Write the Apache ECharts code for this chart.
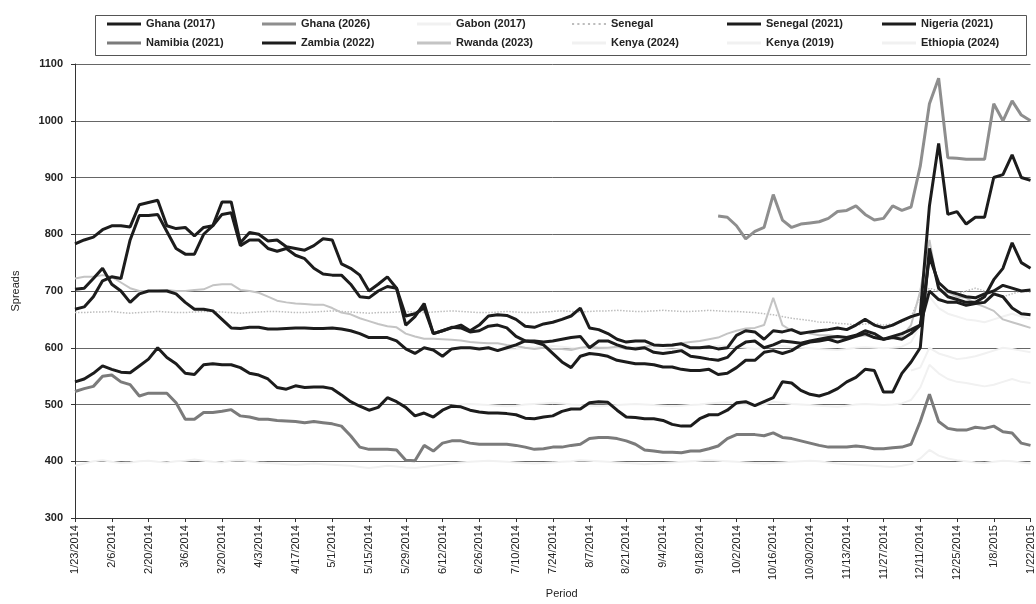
<!DOCTYPE html>
<html>
<head>
<meta charset="utf-8">
<script src="https://cdn.jsdelivr.net/npm/echarts@6/dist/echarts.min.js"></script>
<style>html,body{margin:0;padding:0;background:#fff}#c{width:1036px;height:604px}</style>
</head>
<body>
<div id="c"></div>
<script>
const categories = [
'1/23/2014','1/27/2014','1/30/2014','2/3/2014','2/6/2014','2/10/2014','2/13/2014','2/17/2014','2/20/2014','2/24/2014',
'2/27/2014','3/3/2014','3/6/2014','3/10/2014','3/13/2014','3/17/2014','3/20/2014','3/24/2014','3/27/2014','3/31/2014',
'4/3/2014','4/7/2014','4/10/2014','4/14/2014','4/17/2014','4/21/2014','4/24/2014','4/28/2014','5/1/2014','5/5/2014',
'5/8/2014','5/12/2014','5/15/2014','5/19/2014','5/22/2014','5/26/2014','5/29/2014','6/2/2014','6/5/2014','6/9/2014',
'6/12/2014','6/16/2014','6/19/2014','6/23/2014','6/26/2014','6/30/2014','7/3/2014','7/7/2014','7/10/2014','7/14/2014',
'7/17/2014','7/21/2014','7/24/2014','7/28/2014','7/31/2014','8/4/2014','8/7/2014','8/11/2014','8/14/2014','8/18/2014',
'8/21/2014','8/25/2014','8/28/2014','9/1/2014','9/4/2014','9/8/2014','9/11/2014','9/15/2014','9/18/2014','9/22/2014',
'9/25/2014','9/29/2014','10/2/2014','10/6/2014','10/9/2014','10/13/2014','10/16/2014','10/20/2014','10/23/2014','10/27/2014',
'10/30/2014','11/3/2014','11/6/2014','11/10/2014','11/13/2014','11/17/2014','11/20/2014','11/24/2014','11/27/2014','12/1/2014',
'12/4/2014','12/8/2014','12/11/2014','12/15/2014','12/18/2014','12/22/2014','12/25/2014','12/29/2014','1/1/2015','1/5/2015',
'1/8/2015','1/12/2015','1/15/2015','1/19/2015','1/22/2015'];

const yTicks = [300, 400, 500, 600, 700, 800, 900, 1000, 1100];

const ghana2017 = [
783,790,795,808,815,815,813,852,856,860,
815,810,812,797,812,815,857,857,785,803,
800,788,790,778,775,772,780,792,790,748,
740,728,700,712,725,705,640,655,678,625,
630,635,640,630,640,656,658,657,650,638,
636,642,645,650,656,670,635,632,625,615,
610,612,612,605,604,605,607,600,600,602,
598,600,622,630,628,615,630,628,632,625,
628,630,632,635,632,640,650,640,635,640,
648,655,660,850,960,835,840,818,830,830,
900,905,940,900,895];

const ghana2026 = [
null,null,null,null,null,null,null,null,null,null,
null,null,null,null,null,null,null,null,null,null,
null,null,null,null,null,null,null,null,null,null,
null,null,null,null,null,null,null,null,null,null,
null,null,null,null,null,null,null,null,null,null,
null,null,null,null,null,null,null,null,null,null,
null,null,null,null,null,null,null,null,null,null,
832,830,815,792,805,812,870,825,812,818,
820,822,828,840,842,850,835,825,828,850,
842,848,920,1030,1075,935,934,932,932,932,
1030,1000,1035,1010,1000];

const gabon2017 = [
392,396,400,402,399,397,398,400,401,399,
398,400,401,403,401,399,398,401,402,400,
398,397,396,395,394,395,396,395,394,393,
392,390,388,390,392,391,389,388,390,392,
394,396,398,399,400,401,400,399,398,397,
396,397,398,399,400,402,401,400,399,398,
397,396,395,396,397,398,399,400,401,402,
401,400,399,398,397,396,397,398,399,400,
401,400,398,396,395,394,393,392,391,390,
392,395,405,420,410,405,402,400,398,397,
399,401,400,398,396];

const senegal = [
662,662,663,663,664,662,661,662,663,664,
663,662,662,663,664,664,663,662,661,662,
663,664,664,663,662,662,663,664,665,664,
663,662,661,662,662,663,664,663,662,663,
664,665,664,663,662,662,663,664,663,662,
662,663,664,665,664,663,664,665,665,666,
665,664,664,665,666,665,664,664,665,666,
665,664,664,663,662,660,658,655,652,650,
648,645,645,643,642,640,642,643,640,642,
645,655,690,705,700,698,695,700,705,700,
698,690,695,700,698];

const senegal2021 = [
703,705,722,740,712,700,680,695,700,700,
700,695,680,668,668,665,650,635,634,636,
636,633,633,634,635,635,634,634,635,633,
630,625,618,618,618,612,598,590,600,596,
585,598,600,600,598,600,595,600,605,612,
612,610,612,615,618,620,600,612,612,605,
600,598,600,592,590,592,595,585,583,580,
578,583,600,610,612,600,605,612,610,608,
612,615,618,620,618,622,630,625,615,618,
615,625,640,760,715,700,695,690,688,695,
700,710,705,700,702];

const nigeria2021 = [
668,672,690,718,725,722,790,833,833,835,
805,775,765,765,800,815,835,838,780,790,
790,775,770,775,763,757,740,730,728,728,
712,690,688,700,708,705,656,660,670,625,
630,636,635,628,630,638,640,635,620,612,
610,605,590,575,565,585,590,588,585,578,
575,572,572,570,566,566,562,560,560,562,
553,555,565,578,578,592,595,590,595,605,
610,612,615,610,615,620,625,618,615,620,
625,632,640,700,685,680,680,675,678,680,
695,690,670,660,658];

const namibia2021 = [
523,528,532,550,552,540,535,515,520,520,
520,503,474,474,486,486,488,491,480,478,
474,474,472,471,470,468,470,468,466,462,
445,425,421,421,421,420,402,401,428,418,
432,436,436,432,430,430,430,430,428,425,
421,422,425,425,428,430,440,442,442,440,
436,430,420,418,416,416,415,418,418,422,
427,440,447,447,447,445,450,442,440,436,
432,428,425,425,425,427,425,422,422,424,
425,430,470,518,470,458,455,455,460,458,
462,452,450,432,428];

const zambia2022 = [
540,545,555,568,562,557,556,568,580,600,
583,572,555,553,570,572,570,570,565,555,
552,545,530,527,533,530,531,531,528,517,
505,497,490,495,512,505,495,480,485,478,
490,497,496,490,487,485,485,484,482,476,
475,478,480,488,492,492,503,505,504,490,
478,477,475,475,472,465,462,462,475,482,
482,490,503,505,498,505,512,540,538,525,
518,515,520,528,540,548,562,560,522,522,
555,575,600,775,705,690,685,680,680,690,
720,740,785,750,740];

const rwanda2023 = [
722,725,725,728,725,715,705,700,700,700,
702,700,700,702,703,710,712,712,702,700,
697,690,683,680,678,677,676,676,670,662,
659,652,647,642,638,636,625,620,616,616,
615,614,613,610,609,608,608,605,603,600,
598,600,598,598,596,600,602,600,600,602,
598,600,602,605,605,603,608,610,612,615,
618,625,630,634,635,640,688,640,630,628,
625,622,622,620,618,620,622,618,615,618,
620,640,700,790,700,698,690,688,678,672,
665,650,645,640,635];

const kenya2024 = [
null,null,null,null,null,null,null,null,null,null,
null,null,null,null,null,null,null,null,null,null,
null,null,null,null,null,null,null,null,null,null,
null,null,null,null,null,null,null,null,null,null,
null,598,600,601,600,599,598,597,598,600,
601,602,603,602,600,599,598,597,598,599,
600,601,600,599,598,597,598,599,600,602,
603,604,602,600,598,600,605,603,601,600,
599,598,597,596,598,600,601,600,599,600,
602,610,640,690,670,660,655,650,648,645,
650,655,660,655,650];

const kenya2019 = [
null,null,null,null,null,null,null,null,null,null,
null,null,null,null,null,null,null,null,null,null,
null,null,null,null,null,null,null,null,null,null,
null,null,null,null,null,null,null,null,null,null,
null,498,500,501,500,499,498,497,498,500,
501,502,503,502,500,499,498,497,498,499,
500,501,500,499,498,497,498,499,500,502,
503,504,502,500,498,500,505,503,501,500,
499,498,497,496,498,500,501,500,499,500,
502,508,530,570,555,545,540,538,535,532,
535,540,545,540,538];

const ethiopia2024 = [
null,null,null,null,null,null,null,null,null,null,
null,null,null,null,null,null,null,null,null,null,
null,null,null,null,null,null,null,null,null,null,
null,null,null,null,null,null,null,null,null,null,
null,null,null,null,null,null,null,null,null,null,
null,null,null,null,null,null,null,null,null,null,
null,null,null,null,null,null,null,null,null,null,
null,null,null,null,null,null,null,null,null,null,
null,null,null,null,null,null,null,null,null,null,
null,560,565,600,590,585,580,582,585,590,
595,600,598,595,592];

const legendRow1 = ['Ghana (2017)','Ghana (2026)','Gabon (2017)','Senegal','Senegal (2021)','Nigeria (2021)'];
const legendRow2 = ['Namibia (2021)','Zambia (2022)','Rwanda (2023)','Kenya (2024)','Kenya (2019)','Ethiopia (2024)'];

function mk(name, data, color, width, type) {
  return {
    name: name, type: 'line', data: data, symbol: 'none', showSymbol: false,
    connectNulls: false, smooth: false,
    lineStyle: { color: color, width: width, type: type || 'solid' },
    itemStyle: { color: color },
    emphasis: { disabled: true }
  };
}

const FONT = '"Liberation Sans", Arial, sans-serif';
const faint = '#f1f1f1';
const dottedIcon = 'path://M0,0h2v2h-2z M5,0h2v2h-2z M10,0h2v2h-2z M15,0h2v2h-2z M20,0h2v2h-2z M25,0h2v2h-2z M30,0h2v2h-2z';

function legendAt(names, top) {
  return {
    data: names.map(n => ({ name: n, icon: n === 'Senegal' ? dottedIcon : 'rect' })),
    left: 107, top: top,
    orient: 'horizontal',
    padding: 0,
    itemWidth: 34, itemHeight: 3, itemGap: 17,
    selectedMode: false,
    formatter: n => '{a|' + n + '}',
    textStyle: {
      fontFamily: FONT, fontSize: 11, fontWeight: 'bold', color: '#222',
      rich: { a: { width: 99, height: 14, lineHeight: 14, fontFamily: FONT, fontSize: 11, fontWeight: 'bold', color: '#222' } }
    }
  };
}

const chart = echarts.init(document.getElementById('c'), null, { renderer: 'canvas' });
chart.setOption({
  animation: false,
  backgroundColor: '#ffffff',
  legend: [legendAt(legendRow1, 17), legendAt(legendRow2, 36)],
  graphic: [{
    type: 'rect', left: 93, top: 13, z: 100,
    shape: { width: 931, height: 40 },
    style: { fill: null, stroke: '#555', lineWidth: 1 }
  }],
  grid: { left: 75, right: 5, top: 64, bottom: 79, containLabel: false },
  xAxis: {
    type: 'category', data: categories, boundaryGap: false,
    name: 'Period', nameLocation: 'middle', nameGap: 62,
    nameTextStyle: { fontFamily: FONT, fontSize: 11, color: '#222', padding: [0, 0, 0, 18] },
    axisLine: { lineStyle: { color: '#333', width: 1 } },
    axisTick: { show: true, interval: 3, length: 4, inside: false, lineStyle: { color: '#333' } },
    axisLabel: { interval: 3, rotate: 90, margin: 7, fontFamily: FONT, fontSize: 11, color: '#222' },
    splitLine: { show: false }
  },
  yAxis: {
    type: 'value', min: yTicks[0], max: yTicks[yTicks.length - 1], interval: 100,
    name: 'Spreads', nameLocation: 'middle', nameGap: 54,
    nameTextStyle: { fontFamily: FONT, fontSize: 11, color: '#222' },
    axisLine: { show: true, lineStyle: { color: '#333', width: 1 } },
    axisTick: { show: true, length: 4, lineStyle: { color: '#333' } },
    axisLabel: { margin: 12, fontFamily: FONT, fontSize: 11, fontWeight: 'bold', color: '#222',
      formatter: v => String(v) },
    splitLine: { show: true, lineStyle: { color: '#666', width: 1 } }
  },
  series: [
    mk('Gabon (2017)', gabon2017, faint, 2),
    mk('Kenya (2024)', kenya2024, faint, 2),
    mk('Kenya (2019)', kenya2019, faint, 2),
    mk('Ethiopia (2024)', ethiopia2024, faint, 2),
    mk('Senegal', senegal, '#bdbdbd', 1.5, 'dotted'),
    mk('Rwanda (2023)', rwanda2023, '#c4c4c4', 2),
    mk('Namibia (2021)', namibia2021, '#7b7b7b', 3),
    mk('Ghana (2026)', ghana2026, '#8e8e8e', 3),
    mk('Zambia (2022)', zambia2022, '#1c1c1c', 3),
    mk('Senegal (2021)', senegal2021, '#1c1c1c', 3),
    mk('Nigeria (2021)', nigeria2021, '#1c1c1c', 3),
    mk('Ghana (2017)', ghana2017, '#1c1c1c', 3)
  ]
});
</script>
</body>
</html>
